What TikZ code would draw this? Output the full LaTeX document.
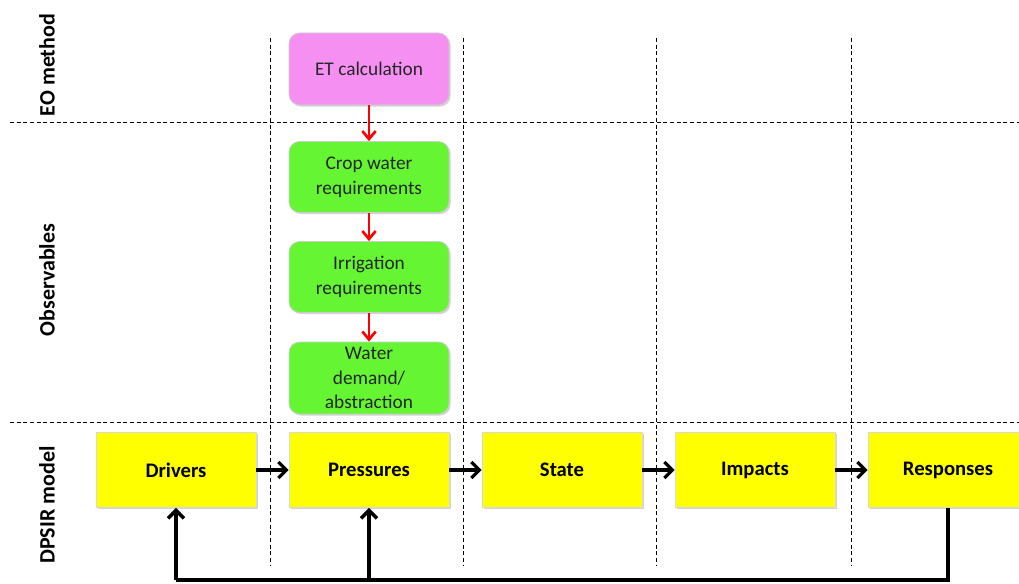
\documentclass[tikz,border=0pt]{standalone}
\usepackage{fontspec}
\setmainfont{Carlito}
\usetikzlibrary{arrows.meta,shadows}
\definecolor{etpink}{HTML}{F590F2}
\definecolor{obsgreen}{HTML}{66F533}
\definecolor{dyellow}{HTML}{FFFF00}
\tikzset{
  obsbox/.style={draw=gray!40,line width=0.6pt,rounded corners=8pt,minimum width=160*0.75pt,minimum height=71*0.75pt,align=center,font=\fontsize{14.5}{18.5}\selectfont,text=black!85,inner sep=1pt,drop shadow={shadow xshift=1.2pt,shadow yshift=-1.2pt,opacity=0.35}},
  dbox/.style={draw=gray!30,line width=0.6pt,fill=dyellow,minimum width=160*0.75pt,minimum height=75*0.75pt,font=\bfseries\fontsize{15.5}{18}\selectfont,drop shadow={shadow xshift=1.2pt,shadow yshift=-1.2pt,opacity=0.35}},
  grid/.style={dashed,line width=0.5pt,dash pattern=on 3pt off 2pt},
  redarr/.style={red,line width=2pt,-{Straight Barb[length=6pt,width=10pt,line width=2pt]}},
  blkarr/.style={black,line width=2.4pt,-{Straight Barb[length=6pt,width=12pt]}},
  fb/.style={black,line width=2.6pt},
  sidelab/.style={rotate=90,font=\bfseries\fontsize{16.5}{18}\selectfont}
}
\begin{document}
\begin{tikzpicture}[x=0.75pt,y=-0.75pt]
\useasboundingbox (0,0) rectangle (1019,584);
\begin{scope}
\clip (0,0) rectangle (1019,584);
% grid
\draw[grid] (10,122) -- (1019,122);
\draw[grid] (10,422) -- (1019,422);
\foreach \x in {270,463,656,851} \draw[grid] (\x,38) -- (\x,565);
% side labels
\node[sidelab] (l1) at (47,65) {EO method};
\node[sidelab] (l2) at (47,280) {Observables};
\node[sidelab] (l3) at (47,505) {DPSIR model};
% observables
\node[obsbox,fill=etpink,minimum height=72*0.75pt] (et) at (369,69) {ET calculation};
\node[obsbox,fill=obsgreen] (crop) at (369,177) {Crop water\\requirements};
\node[obsbox,fill=obsgreen] (irr) at (369,277) {Irrigation\\requirements};
\node[obsbox,fill=obsgreen,minimum height=72*0.75pt] (wd) at (369,378) {Water\\demand/\\abstraction};
\draw[redarr] (et.south) -- (crop.north);
\draw[redarr] (crop.south) -- (irr.north);
\draw[redarr] (irr.south) -- (wd.north);
% DPSIR
\node[dbox] (d) at (176,470) {Drivers};
\node[dbox] (p) at (369,470) {Pressures};
\node[dbox] (s) at (562,470) {State};
\node[dbox] (i) at (755,470) {Impacts};
\node[dbox] (r) at (948,470) {Responses};
\draw[blkarr] (d.east) -- (p.west);
\draw[blkarr] (p.east) -- (s.west);
\draw[blkarr] (s.east) -- (i.west);
\draw[blkarr] (i.east) -- (r.west);
% feedback
\coordinate (fr) at (948,580);
\coordinate (fd) at (176,580);
\coordinate (fp) at (369,580);
\draw[fb] (r.south) -- (fr) -- (fd);
\draw[blkarr,line width=2.6pt] (fd) -- (d.south);
\draw[blkarr,line width=2.6pt] (fp) -- (p.south);
\end{scope}
\end{tikzpicture}
\end{document}
